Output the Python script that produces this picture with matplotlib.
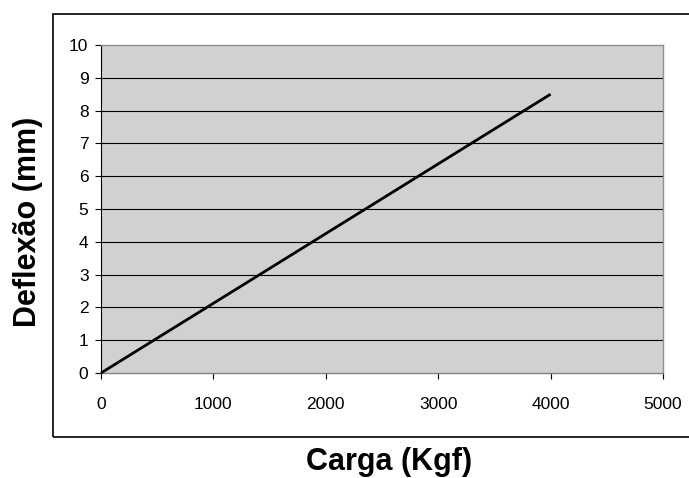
import matplotlib
matplotlib.use("Agg")
import matplotlib.pyplot as plt
from matplotlib.patches import Rectangle

carga = [0, 4000]
deflexao = [0, 8.5]
x_ticks = [0, 1000, 2000, 3000, 4000, 5000]
y_ticks = [0, 1, 2, 3, 4, 5, 6, 7, 8, 9, 10]

plt.rcParams['font.family'] = ['Liberation Sans', 'DejaVu Sans']

W, H = 689, 478
fig = plt.figure(figsize=(W / 100, H / 100), dpi=100)
ax = fig.add_axes([101 / W, 1 - 373 / H, 562 / W, 328 / H])
ax.set_facecolor('#D1D1D1')

ax.plot(carga, deflexao, color='black', linewidth=2.0, solid_capstyle='butt', zorder=3, clip_on=False)

ax.set_xlim(0, 5000)
ax.set_ylim(0, 10)
ax.set_xticks(x_ticks)
ax.set_yticks(y_ticks)
ax.set_xticklabels([str(v) for v in x_ticks])
ax.set_yticklabels([str(v) for v in y_ticks])

for y in y_ticks[1:-1]:
    ax.axhline(y, color='black', linewidth=0.8, zorder=1)

ax.tick_params(axis='x', direction='out', length=4, width=0.8, pad=13, labelsize=12.5, colors='black')
ax.tick_params(axis='y', direction='out', length=4, width=0.8, pad=5, labelsize=12.5, colors='black')

ax.spines['left'].set_color('black')
ax.spines['left'].set_linewidth(0.8)
ax.spines['bottom'].set_color('#808080')
ax.spines['bottom'].set_linewidth(1.0)
ax.spines['top'].set_color('#909090')
ax.spines['top'].set_linewidth(1.0)
ax.spines['right'].set_color('#909090')
ax.spines['right'].set_linewidth(1.0)

# outer chart frame
frame = Rectangle((53 / W, 1 - 437 / H), (W + 5 - 53) / W, (437 - 14) / H,
                  transform=fig.transFigure, fill=False, edgecolor='black',
                  linewidth=1.2, clip_on=False)
fig.patches.append(frame)

fig.text(389 / W, 1 - 462 / H, 'Carga (Kgf)', ha='center', va='center',
         fontsize=22, fontweight='bold')
fig.text(28 / W, 1 - 222 / H, 'Deflexão (mm)', ha='center', va='center',
         rotation=90, fontsize=22, fontweight='bold')

fig.savefig('out.png', dpi=100)
